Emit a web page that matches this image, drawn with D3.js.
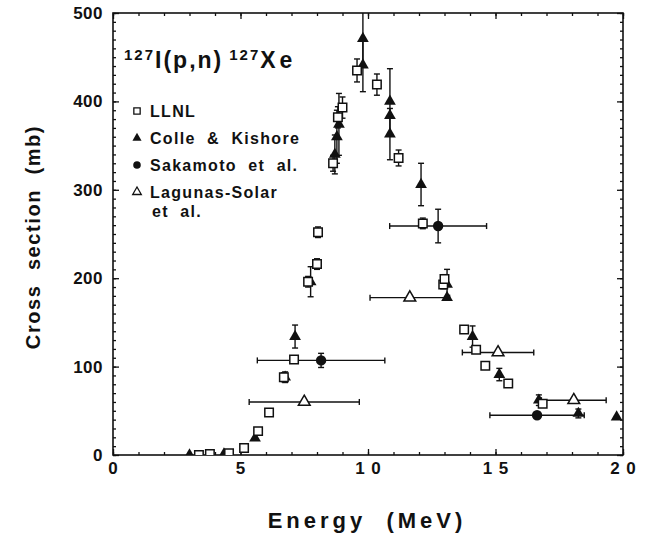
<!DOCTYPE html>
<html>
<head>
<meta charset="utf-8">
<script src="https://cdn.jsdelivr.net/npm/d3@7"></script>
<style>
  html, body { margin: 0; padding: 0; background: #fff; }
  svg { display: block; }
  text { font-family: "Liberation Sans", Arial, Helvetica, sans-serif; font-weight: bold; fill: #111; white-space: pre; }
</style>
</head>
<body>
<svg id="chart" width="651" height="537"></svg>
<script>
// 127I(p,n)127Xe excitation function: cross section (mb) vs proton energy (MeV)

// LLNL: [energy, cross section, sigma error]
const llnl = [
  [3.37, 0, 0], [3.8, 1, 0], [4.55, 2, 0], [5.14, 8, 0], [5.69, 27, 0],
  [6.12, 48, 0], [6.7, 88, 5], [7.1, 108, 0], [7.65, 196, 6], [8.0, 216, 6],
  [8.04, 252, 6], [8.63, 330, 9], [8.82, 382, 12], [9.0, 393, 12], [9.57, 435, 13],
  [10.35, 419, 12], [11.2, 336, 9], [12.15, 262, 6], [12.95, 193, 5], [13.0, 199, 5],
  [13.77, 142, 0], [14.24, 119, 0], [14.6, 101, 0], [15.5, 81, 0], [16.85, 58, 0]
];

// Colle & Kishore: [energy, cross section, sigma error]
const colle = [
  [3.0, 0, 0], [4.35, 1, 0], [5.57, 19, 0], [6.75, 88, 6], [7.14, 134, 13],
  [7.75, 196, 17], [8.7, 340, 22], [8.78, 360, 30], [8.86, 374, 35], [9.8, 441, 30],
  [9.8, 471, 30], [10.86, 400, 37], [10.86, 384, 0], [10.86, 363, 29], [12.08, 306, 24],
  [13.1, 193, 17], [13.1, 178, 0], [14.1, 134, 12], [15.15, 91, 7], [16.7, 62, 6],
  [18.25, 47, 5], [19.75, 43, 0]
];

// Sakamoto et al.: [energy, cross section, energy spread, sigma error]
const sakamoto = [
  [8.16, 107, 2.5, 8], [12.75, 259, 1.9, 19], [16.63, 45, 1.85, 0]
];

// Lagunas-Solar et al.: [energy, cross section, energy spread]
const lagunas = [
  [7.5, 60, 2.16], [11.64, 178, 1.56], [15.1, 116, 1.4], [18.07, 62, 1.27]
];

const xTicks = [0, 5, 10, 15, 20];
const xTickLabels = ["0", "5", "1 0", "1 5", "2 0"];
const yTicks = [0, 100, 200, 300, 400, 500];
const yTickLabels = ["0", "100", "200", "300", "400", "500"];
const legendLabels = ["LLNL", "Colle  &  Kishore", "Sakamoto  et  al.", "Lagunas-Solar"];

const svg = d3.select("#chart");
const pLeft = 113, pRight = 623, pTop = 13, pBottom = 455;

const x = d3.scaleLinear().domain([0, 20]).range([pLeft, pRight]);
const y = d3.scaleLinear().domain([0, 500]).range([pBottom, pTop]);

svg.append("defs").append("clipPath").attr("id", "plotClip")
  .append("rect").attr("x", pLeft).attr("y", pTop)
  .attr("width", pRight - pLeft).attr("height", pBottom - pTop);

// ---- axes: major ticks with labels, minor ticks, mirrored on top/right ----
const axisStyle = g => {
  g.select(".domain").remove();
  g.selectAll(".tick line").attr("stroke", "#111").attr("stroke-width", 1.3);
};

const xMinor = d3.range(0, 21, 1);
const yMinor = d3.range(0, 501, 10);

svg.append("g").attr("transform", `translate(0,${pBottom})`)
  .call(d3.axisBottom(x).tickValues(xMinor).tickSize(-3).tickFormat(""))
  .call(axisStyle);
svg.append("g").attr("transform", `translate(0,${pTop})`)
  .call(d3.axisTop(x).tickValues(xMinor).tickSize(-3).tickFormat(""))
  .call(axisStyle);
svg.append("g").attr("transform", `translate(${pLeft},0)`)
  .call(d3.axisLeft(y).tickValues(yMinor).tickSize(-3).tickFormat(""))
  .call(axisStyle);
svg.append("g").attr("transform", `translate(${pRight},0)`)
  .call(d3.axisRight(y).tickValues(yMinor).tickSize(-3).tickFormat(""))
  .call(axisStyle);

const xAxis = svg.append("g").attr("transform", `translate(0,${pBottom})`)
  .call(d3.axisBottom(x).tickValues(xTicks).tickSize(-6).tickPadding(7)
    .tickFormat((d, i) => xTickLabels[i]))
  .call(axisStyle);
xAxis.selectAll(".tick text")
  .attr("font-size", 17).attr("font-family", null).attr("fill", "#111")
  .attr("letter-spacing", 1);

svg.append("g").attr("transform", `translate(0,${pTop})`)
  .call(d3.axisTop(x).tickValues(xTicks).tickSize(-6).tickFormat(""))
  .call(axisStyle);

const yAxis = svg.append("g").attr("transform", `translate(${pLeft},0)`)
  .call(d3.axisLeft(y).tickValues(yTicks).tickSize(-6).tickPadding(10)
    .tickFormat((d, i) => yTickLabels[i]))
  .call(axisStyle);
yAxis.selectAll(".tick text")
  .attr("font-size", 17).attr("font-family", null).attr("fill", "#111")
  .attr("letter-spacing", 0.5);

svg.append("g").attr("transform", `translate(${pRight},0)`)
  .call(d3.axisRight(y).tickValues(yTicks).tickSize(-6).tickFormat(""))
  .call(axisStyle);

// frame
svg.append("rect").attr("x", pLeft).attr("y", pTop)
  .attr("width", pRight - pLeft).attr("height", pBottom - pTop)
  .attr("fill", "none").attr("stroke", "#111").attr("stroke-width", 1.6);

// axis titles
svg.append("text").attr("x", (pLeft + pRight) / 2 - 1).attr("y", 528)
  .attr("text-anchor", "middle").attr("font-size", 22).attr("letter-spacing", 4)
  .text("Energy  (MeV)");
svg.append("text").attr("transform", "translate(40,237) rotate(-90)")
  .attr("text-anchor", "middle").attr("font-size", 20).attr("letter-spacing", 1.6)
  .text("Cross  section  (mb)");

// reaction label
const title = svg.append("text").attr("x", 124).attr("y", 68).attr("font-size", 23).attr("letter-spacing", 2);
title.append("tspan").attr("font-size", 15).attr("dy", -8).text("127");
title.append("tspan").attr("dy", 8).text("I(p,n)");
title.append("tspan").attr("font-size", 15).attr("dy", -8).attr("dx", 6).text("127");
title.append("tspan").attr("dy", 8).attr("letter-spacing", 4).text("Xe");

// ---- data marks ----
const plot = svg.append("g").attr("clip-path", "url(#plotClip)");
const ink = "#111";
const cap = 3;

function vBar(g, xv, yv, err) {
  if (!err) return;
  const px = x(xv), y1 = y(yv - err), y2 = y(yv + err);
  g.append("line").attr("x1", px).attr("x2", px).attr("y1", y1).attr("y2", y2);
  g.append("line").attr("x1", px - cap).attr("x2", px + cap).attr("y1", y1).attr("y2", y1);
  g.append("line").attr("x1", px - cap).attr("x2", px + cap).attr("y1", y2).attr("y2", y2);
}
function hBar(g, xv, yv, err) {
  if (!err) return;
  const py = y(yv), x1 = x(xv - err), x2 = x(xv + err);
  g.append("line").attr("x1", x1).attr("x2", x2).attr("y1", py).attr("y2", py);
  g.append("line").attr("x1", x1).attr("x2", x1).attr("y1", py - cap).attr("y2", py + cap);
  g.append("line").attr("x1", x2).attr("x2", x2).attr("y1", py - cap).attr("y2", py + cap);
}

const bars = plot.append("g").attr("stroke", ink).attr("stroke-width", 1.4);
llnl.forEach(d => vBar(bars, d[0], d[1], d[2]));
colle.forEach(d => vBar(bars, d[0], d[1], d[2]));
sakamoto.forEach(d => { hBar(bars, d[0], d[1], d[2]); vBar(bars, d[0], d[1], d[3]); });
lagunas.forEach(d => hBar(bars, d[0], d[1], d[2]));

const sq = d3.symbol().type(d3.symbolSquare).size(72);
const tri = d3.symbol().type(d3.symbolTriangle).size(60);
const circ = d3.symbol().type(d3.symbolCircle).size(85);

plot.append("g").selectAll("path").data(colle).join("path")
  .attr("d", tri).attr("transform", d => `translate(${x(d[0])},${y(d[1])})`)
  .attr("fill", ink);
plot.append("g").selectAll("path").data(sakamoto).join("path")
  .attr("d", circ).attr("transform", d => `translate(${x(d[0])},${y(d[1])})`)
  .attr("fill", ink);
plot.append("g").selectAll("path").data(lagunas).join("path")
  .attr("d", tri).attr("transform", d => `translate(${x(d[0])},${y(d[1])})`)
  .attr("fill", "#fff").attr("stroke", ink).attr("stroke-width", 1.5);
plot.append("g").selectAll("path").data(llnl).join("path")
  .attr("d", sq).attr("transform", d => `translate(${x(d[0])},${y(d[1])})`)
  .attr("fill", "#fff").attr("stroke", ink).attr("stroke-width", 1.5);

// ---- legend ----
const legend = svg.append("g");
const legendY = [111, 138, 165, 192];
const legendSym = [
  { d: d3.symbol().type(d3.symbolSquare).size(40)(), fill: "#fff", stroke: ink },
  { d: d3.symbol().type(d3.symbolTriangle).size(36)(), fill: ink, stroke: "none" },
  { d: d3.symbol().type(d3.symbolCircle).size(45)(), fill: ink, stroke: "none" },
  { d: d3.symbol().type(d3.symbolTriangle).size(32)(), fill: "#fff", stroke: ink }
];
legendLabels.forEach((lab, i) => {
  legend.append("path").attr("d", legendSym[i].d)
    .attr("transform", `translate(137,${legendY[i]})`)
    .attr("fill", legendSym[i].fill).attr("stroke", legendSym[i].stroke).attr("stroke-width", 1.3);
  legend.append("text").attr("x", 150).attr("y", legendY[i] + 6)
    .attr("font-size", 16).attr("letter-spacing", 1.3).text(lab);
});
legend.append("text").attr("x", 152).attr("y", 217)
  .attr("font-size", 16).attr("letter-spacing", 1.3).text("et  al.");
</script>
</body>
</html>
